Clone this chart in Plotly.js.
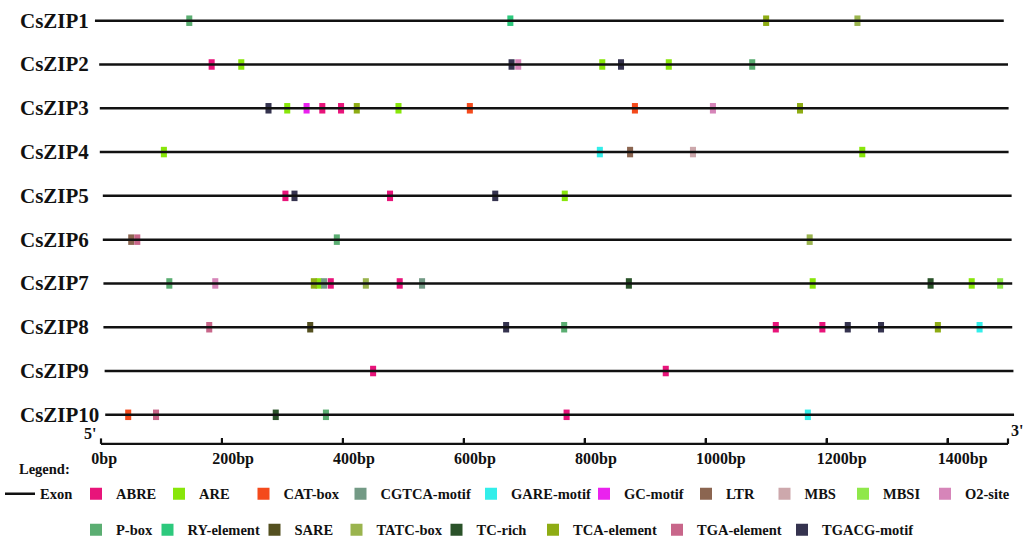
<!DOCTYPE html>
<html><head><meta charset="utf-8">
<script src="https://cdn.plot.ly/plotly-3.0.1.min.js"></script>
<style>html,body{margin:0;padding:0;background:#fff}#chart{width:1033px;height:537px}</style>
</head><body><div id="chart"></div>
<script>
// ---------------- data ----------------
const genes = ['CsZIP1','CsZIP2','CsZIP3','CsZIP4','CsZIP5','CsZIP6','CsZIP7','CsZIP8','CsZIP9','CsZIP10'];
// promoter line extents (bp, as read on the common axis)
const lineStart = [-10, -3, -2, -2, 3, 3, 4, 4, 6, 7];
const lineEnd   = [1493, 1500, 1501, 1501, 1506, 1506, 1507, 1507, 1509, 1510];

const elements = ['ABRE','ARE','CAT-box','CGTCA-motif','GARE-motif','GC-motif','LTR','MBS','MBSI','O2-site',
                  'P-box','RY-element','SARE','TATC-box','TC-rich','TCA-element','TGA-element','TGACG-motif'];

// one entry per cis-element site: gene index, element, position (bp)
const siteGene = [
  0,0,0,0,
  1,1,1,1,1,1,1,1,
  2,2,2,2,2,2,2,2,2,2,2,
  3,3,3,3,3,
  4,4,4,4,4,
  5,5,5,5,
  6,6,6,6,6,6,6,6,6,6,6,6,6,6,
  7,7,7,7,7,7,7,7,7,7,
  8,8,
  9,9,9,9,9,9
];
const siteType = [
  'P-box','RY-element','TCA-element','TATC-box',
  'ABRE','ARE','TGACG-motif','O2-site','ARE','TGACG-motif','ARE','P-box',
  'TGACG-motif','ARE','GC-motif','ABRE','ABRE','TCA-element','ARE','CAT-box','CAT-box','O2-site','TCA-element',
  'ARE','GARE-motif','LTR','MBS','ARE',
  'ABRE','TGACG-motif','ABRE','TGACG-motif','ARE',
  'LTR','TGA-element','P-box','TATC-box',
  'P-box','O2-site','TCA-element','ARE','CGTCA-motif','ABRE','TATC-box','ABRE','CGTCA-motif','TC-rich','ARE','TC-rich','ARE','MBSI',
  'TGA-element','SARE','TGACG-motif','P-box','ABRE','ABRE','TGACG-motif','TGACG-motif','TCA-element','GARE-motif',
  'ABRE','ABRE',
  'CAT-box','TGA-element','TC-rich','P-box','ABRE','GARE-motif'
];
const sitePos = [
  146, 677, 1100, 1251,
  183, 232, 679, 690, 829, 860, 939, 1077,
  277, 308, 340, 366, 397, 423, 492, 610, 883, 1012, 1156,
  104, 825, 875, 979, 1259,
  305, 320, 478, 652, 767,
  50, 60, 390, 1172,
  113, 189, 352, 360, 369, 380, 438, 494, 531, 873, 1177, 1372, 1440, 1487,
  179, 346, 670, 766, 1116, 1193, 1235, 1290, 1384, 1453,
  450, 934,
  45, 91, 289, 372, 770, 1169
];

const axisTicks = [0, 200, 400, 600, 800, 1000, 1200, 1400, 1500];
const axisTickLabels = ['0bp','200bp','400bp','600bp','800bp','1000bp','1200bp','1400bp',''];
const promoterLength = 1500;

// ---------------- styles ----------------
const elementColors = {
  'ABRE':'#E8147A','ARE':'#88E60A','CAT-box':'#F44A1C','CGTCA-motif':'#739A85','GARE-motif':'#33EEEA',
  'GC-motif':'#EA22EE','LTR':'#8B6550','MBS':'#CDA8AC','MBSI':'#8FE84A','O2-site':'#D685B9',
  'P-box':'#5BAE72','RY-element':'#2DC97D','SARE':'#545020','TATC-box':'#9AB44E','TC-rich':'#2A5229',
  'TCA-element':'#8EAC14','TGA-element':'#C8668A','TGACG-motif':'#35334F'
};
// legend swatch centres (px) for each element, row 1 / row 2
const legendSwatchX = {
  'ABRE':95,'ARE':178,'CAT-box':262.5,'CGTCA-motif':359.5,'GARE-motif':490,'GC-motif':603,'LTR':705,
  'MBS':783.5,'MBSI':862,'O2-site':944,
  'P-box':95,'RY-element':166.5,'SARE':273.5,'TATC-box':355.5,'TC-rich':455.5,'TCA-element':552,
  'TGA-element':676,'TGACG-motif':801
};
const FONT = 'Liberation Serif, "Times New Roman", Times, serif';
const INK = '#111111';

// ---------------- geometry ----------------
const W = 1033, H = 537;
const AX0 = 101, AX1 = 1008;                 // pixel x of 0 bp and of the promoter end
const AXY = 442.7;                            // pixel y of the bp axis
const scale = (AX1 - AX0) / promoterLength;   // px per bp
const xr0 = -AX0 / scale, xr1 = xr0 + W / scale;
const ROW0 = 20.7, ROWSTEP = 43.79;           // pixel y of first row, row spacing
const yTop = -ROW0 / ROWSTEP, yBot = (H - ROW0) / ROWSTEP;
const px2paperX = p => p / W;
const py2paperY = p => (H - p) / H;
const barH = 10.5 / ROWSTEP, barW = 10;
const LEG_OFFSET = 14;                         // legend top -> first item centre
const ROW1_Y = 491.7, ROW2_Y = 527.7;
const axisRowY = (AXY + 1.2 - ROW0) / ROWSTEP; // scale line, in row units of the main y axis
const tickRise = 5.5 / ROWSTEP;

// ---------------- traces ----------------
const traces = [];
const lx = [], ly = [];
genes.forEach((g, i) => { lx.push(lineStart[i], lineEnd[i], null); ly.push(i, i, null); });
traces.push({
  type: 'scatter', mode: 'lines', name: 'Exon', x: lx, y: ly,
  line: {color: INK, width: 2.5}, legend: 'legend'
});

elements.forEach((el, k) => {
  const xs = [], ys = [], bs = [];
  siteType.forEach((t, j) => {
    if (t === el) { xs.push(sitePos[j]); ys.push(barH); bs.push(siteGene[j] - barH / 2); }
  });
  traces.push({
    type: 'bar', name: el, x: xs, y: ys, base: bs, width: barW,
    marker: {color: elementColors[el]},
    legend: 'legend' + (k + 2)
  });
});

// bp scale line with its ticks, drawn in the main subplot's scale
const sx = [0, promoterLength, null], sy = [axisRowY, axisRowY, null];
axisTicks.forEach(v => { sx.push(v, v, null); sy.push(axisRowY, axisRowY - tickRise, null); });
traces.push({type: 'scatter', mode: 'lines', x: sx, y: sy, name: 'scale', showlegend: false,
  line: {color: INK, width: 2.2}});

// carrier for the bp tick-label axis
traces.push({type: 'scatter', mode: 'markers', x: [], y: [], xaxis: 'x2', yaxis: 'y2', showlegend: false});

// ---------------- annotations ----------------
const annotations = genes.map((g, i) => ({
  text: g, xref: 'paper', x: px2paperX(18), xanchor: 'left',
  yref: 'y', y: i, yanchor: 'middle', showarrow: false,
  font: {family: FONT, size: 21, weight: 'bold', color: INK}
}));
annotations.push({
  text: "5'", xref: 'paper', x: px2paperX(98), xanchor: 'right',
  yref: 'paper', y: py2paperY(444), yanchor: 'bottom', showarrow: false,
  font: {family: FONT, size: 16, weight: 'bold', color: INK}
});
annotations.push({
  text: "3'", xref: 'paper', x: px2paperX(1009), xanchor: 'left',
  yref: 'paper', y: py2paperY(441), yanchor: 'bottom', showarrow: false,
  font: {family: FONT, size: 16, weight: 'bold', color: INK}
});
annotations.push({
  text: 'Legend:', xref: 'paper', x: px2paperX(17), xanchor: 'left',
  yref: 'paper', y: py2paperY(469), yanchor: 'middle', showarrow: false,
  font: {family: FONT, size: 14.5, weight: 'bold', color: INK}
});

const legendFont = {family: FONT, size: 14.5, weight: 'bold', color: INK};
const legendBase = {orientation: 'h', xanchor: 'left', yanchor: 'top', font: legendFont,
  itemwidth: 30, bgcolor: 'rgba(0,0,0,0)', borderwidth: 0, tracegroupgap: 0};

const layout = {
  width: W, height: H,
  margin: {l: 0, r: 0, t: 0, b: 0, pad: 0, autoexpand: false},
  plot_bgcolor: 'rgba(0,0,0,0)',
  barmode: 'overlay', showlegend: true,
  xaxis: {range: [xr0, xr1], visible: false},
  yaxis: {range: [yBot, yTop], visible: false},
  xaxis2: {
    domain: [px2paperX(AX0), px2paperX(AX1)], range: [0, promoterLength], anchor: 'y2',
    showline: true, linewidth: 2.5, linecolor: INK, showgrid: false, zeroline: false,
    ticks: 'inside', ticklen: 5, tickwidth: 2, tickcolor: INK,
    tickmode: 'array', tickvals: axisTicks, ticktext: axisTickLabels,
    ticklabelposition: 'outside right', ticklabelshift: -12,
    tickfont: {family: FONT, size: 16, weight: 'bold', color: INK}
  },
  yaxis2: {domain: [py2paperY(AXY), py2paperY(AXY) + 0.01], anchor: 'x2', range: [0, 1], visible: false},
  legend: Object.assign({}, legendBase, {x: 0, y: py2paperY(ROW1_Y - LEG_OFFSET)}),
  annotations: annotations
};
elements.forEach((el, k) => {
  layout['legend' + (k + 2)] = Object.assign({}, legendBase, {
    x: px2paperX(legendSwatchX[el] - 19),
    y: py2paperY((k < 10 ? ROW1_Y : ROW2_Y) - LEG_OFFSET)
  });
});

Plotly.newPlot('chart', traces, layout, {displayModeBar: false, staticPlot: true});
</script>
</body></html>
